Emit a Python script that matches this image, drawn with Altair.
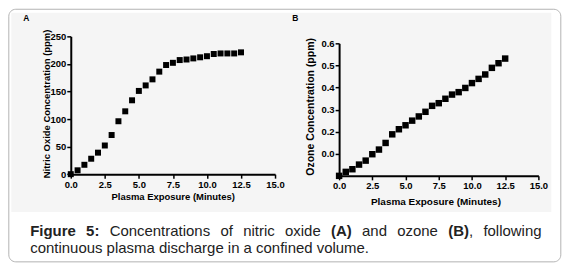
import altair as alt
import pandas as pd

# ---- data ----
minutes = [0.0, 0.5, 1.0, 1.5, 2.0, 2.5, 3.0, 3.5, 4.0, 4.5, 5.0, 5.5, 6.0,
           6.5, 7.0, 7.5, 8.0, 8.5, 9.0, 9.5, 10.0, 10.5, 11.0, 11.5, 12.0, 12.5]
nitric_oxide_ppm = [0, 7, 17, 28, 39, 52, 71, 96, 114, 134, 151, 161, 172,
                    186, 198, 202, 207, 208, 210, 212, 214, 218, 219, 219, 219, 221]
ozone_ppm = [0.0, 0.018, 0.030, 0.051, 0.069, 0.098, 0.119, 0.149, 0.188, 0.211,
             0.229, 0.250, 0.269, 0.290, 0.317, 0.329, 0.349, 0.368, 0.379, 0.398,
             0.420, 0.439, 0.459, 0.489, 0.510, 0.531]
x_ticks = [0, 2.5, 5, 7.5, 10, 12.5, 15]
no_ticks = [0, 50, 100, 150, 200, 250]
o3_ticks = [0.1, 0.2, 0.3, 0.4, 0.5, 0.6]

x_title = "Plasma Exposure (Minutes)"
no_title = "Nitric Oxide Concentration (ppm)"
o3_title = "Ozone Concentration (ppm)"

caption_line1 = [("Figure", True), ("5:", True), ("Concentrations", False), ("of", False),
                 ("nitric", False), ("oxide", False), ("(A)", True), ("and", False),
                 ("ozone", False), ("(B)", True), (",", False), ("following", False)]
caption_line1_x = [30, 86.1, 109.7, 220.9, 243.7, 285.7, 331.9, 363, 398.3, 449.5, 470.3, 484.8]
caption_line2 = "continuous plasma discharge in a confined volume."

FONT = "Liberation Sans"

df_no = pd.DataFrame({"minutes": minutes, "ppm": nitric_oxide_ppm})
df_o3 = pd.DataFrame({"minutes": minutes, "ppm": ozone_ppm})
one = alt.InlineData(values=[{"k": 0}])

# page position of panel A plot origin
OX, OY = 70.7, 35.7
def px(v):
    return v - OX
def py(v):
    return v - OY

border = alt.Chart(one).mark_rect(fill="white", stroke="#b3b3b3", strokeWidth=1, cornerRadius=7).encode(
    x=alt.value(px(8.5)), x2=alt.value(px(562.5)), y=alt.value(py(8.5)), y2=alt.value(py(262)))
panel_bg = alt.Chart(one).mark_rect(fill="#f5f5f5").encode(
    x=alt.value(px(11)), x2=alt.value(px(553)), y=alt.value(py(12)), y2=alt.value(py(212)))

def label(txt, x, y, size, bold, align="left", baseline="alphabetic", color="#222"):
    return alt.Chart(one).mark_text(text=txt, font=FONT, fontSize=size,
                                    fontWeight="bold" if bold else "normal",
                                    align=align, baseline=baseline, color=color).encode(
        x=alt.value(px(x)), y=alt.value(py(y)))

decor = [border, panel_bg,
         label("A", 26, 17, 8.5, True, align="center", baseline="middle", color="black"),
         label("B", 296, 17, 8.5, True, align="center", baseline="middle", color="black")]
for (txt, b), xx in zip(caption_line1, caption_line1_x):
    decor.append(label(txt, xx, 236, 15, b))
decor.append(label(caption_line2, 30, 253, 15, False))

pts_a = alt.Chart(df_no).mark_square(color="black", size=36, opacity=1).encode(
    x=alt.X("minutes:Q", scale=alt.Scale(domain=[0, 15], nice=False),
            axis=alt.Axis(title=x_title, values=x_ticks, format=".1f", titleX=102.3, titleY=22.7,
                          titleAlign="center", titleBaseline="middle", titleFontSize=9.5, zindex=2)),
    y=alt.Y("ppm:Q", scale=alt.Scale(domain=[0, 250], nice=False),
            axis=alt.Axis(title=no_title, values=no_ticks, format="d", titleX=-24, titleY=67.3,
                          titleAngle=270, titleAlign="center", titleBaseline="middle",
                          titleFontSize=9.5, zindex=2)),
)
panel_a = alt.layer(*decor, pts_a).properties(width=205, height=138.3)

pts_b = alt.Chart(df_o3).mark_square(color="black", size=42, opacity=1).encode(
    x=alt.X("minutes:Q", scale=alt.Scale(domain=[0, 15], nice=False),
            axis=alt.Axis(title=x_title, values=x_ticks, format=".1f", titleX=96.7, titleY=26,
                          titleAlign="center", titleBaseline="middle", titleFontSize=10, zindex=2)),
    y=alt.Y("ppm:Q", scale=alt.Scale(domain=[0, 0.6], nice=False, range=[140, 7]),
            axis=alt.Axis(title=o3_title, values=o3_ticks,
                          labelExpr="datum.value < 0.15 ? '0.0' : format(datum.value, '.1f')",
                          titleX=-28.3, titleY=70.3, titleAngle=270, titleAlign="center",
                          titleBaseline="middle", titleFontSize=10.5, zindex=2)),
)
panel_b = pts_b.properties(width=200, height=140)

chart = alt.hconcat(panel_a, panel_b, spacing=64.3, bounds="flush").properties(
    padding=0
).configure_view(strokeWidth=0).configure_axis(
    domainColor="black", domainWidth=2, tickColor="black", tickWidth=1.5, tickSize=4,
    labelFont=FONT, labelFontWeight="bold", labelFontSize=9.5, labelColor="black",
    labelPadding=1, labelFlush=False, labelOverlap=False,
    titleFont=FONT, titleFontWeight="bold", titleColor="black", grid=False,
)

chart.save("out.html", embed_options={"renderer": "svg", "actions": False})
